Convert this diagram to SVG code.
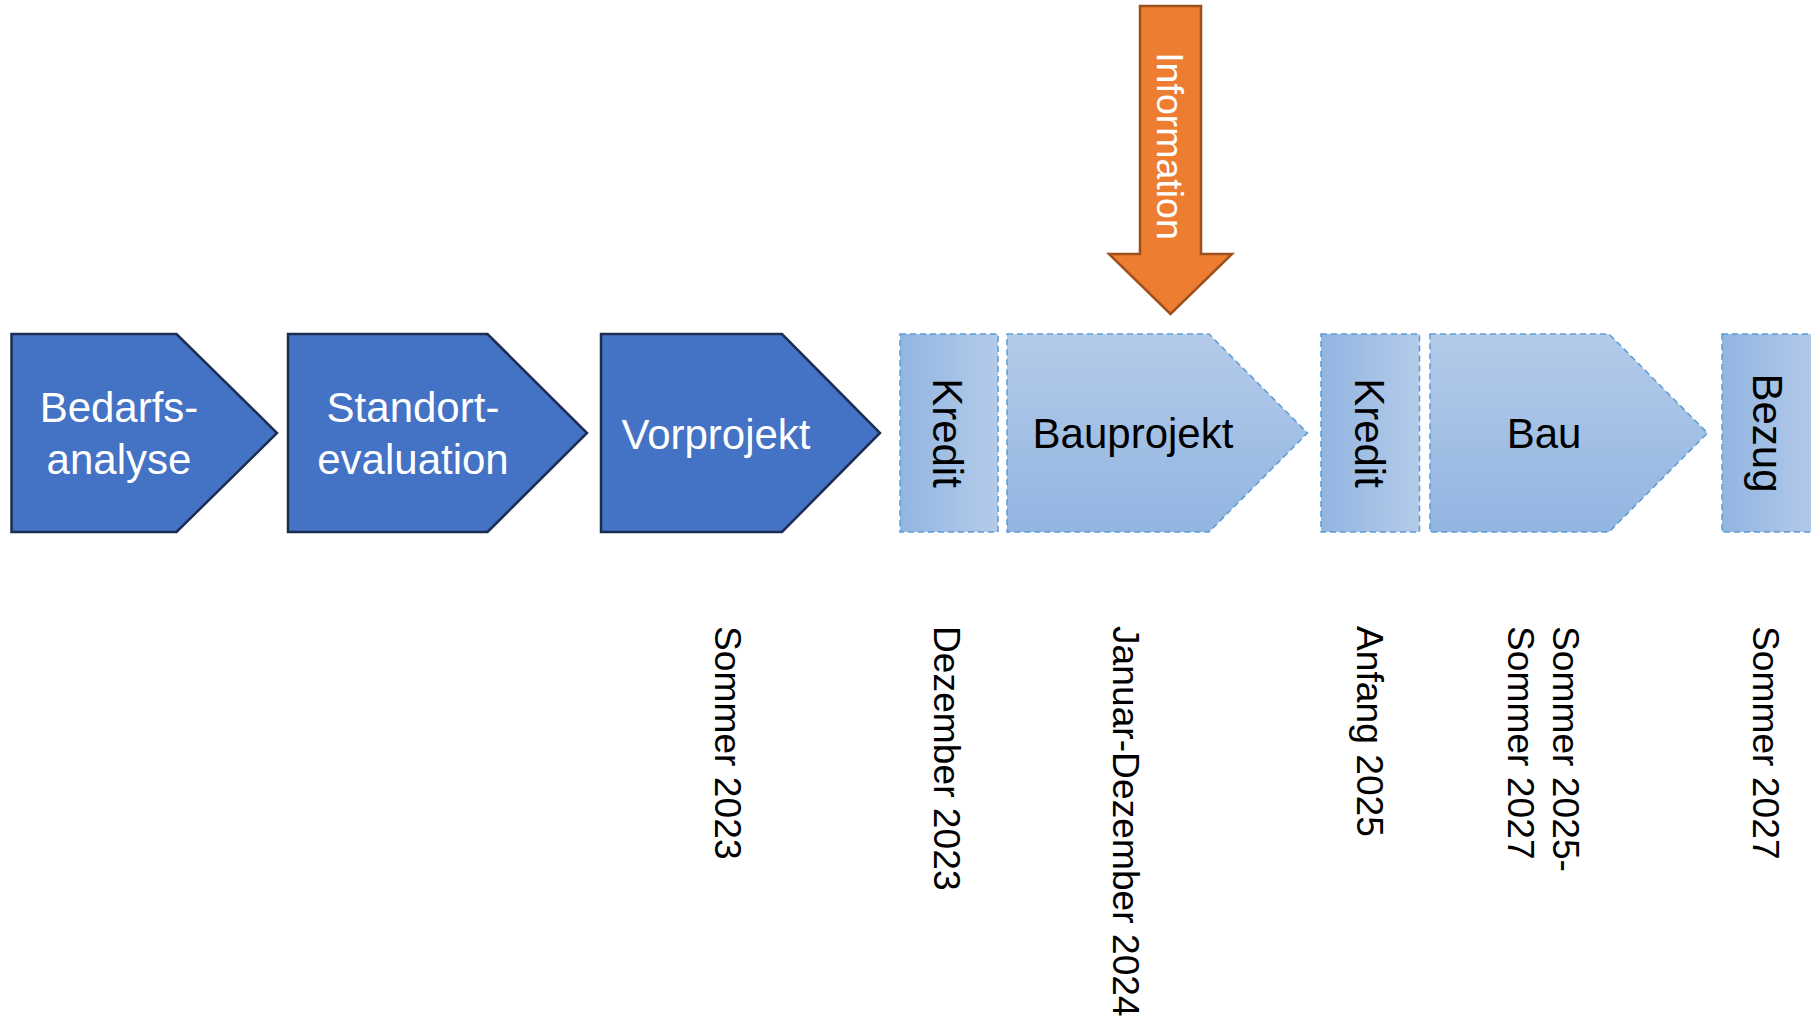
<svg xmlns="http://www.w3.org/2000/svg" width="1811" height="1021" viewBox="0 0 1811 1021">
<defs>
<linearGradient id="gv" x1="0" y1="0" x2="0" y2="1">
<stop offset="0" stop-color="#B4CBE9"/>
<stop offset="1" stop-color="#92B5E1"/>
</linearGradient>
<linearGradient id="gh" x1="0" y1="0" x2="1" y2="0">
<stop offset="0" stop-color="#92B5E1"/>
<stop offset="1" stop-color="#B4CBE9"/>
</linearGradient>
<style>
.dark{fill:#4472C4;stroke:#1C2D52;stroke-width:2.5;stroke-linejoin:miter}
.lightv{fill:url(#gv);stroke:#5B9BD5;stroke-width:1.5;stroke-dasharray:6 4}
.lighth{fill:url(#gh);stroke:#5B9BD5;stroke-width:1.5;stroke-dasharray:6 4}
.info{fill:#ED7D31;stroke:#9E4F1A;stroke-width:2.5}
text{font-family:"Liberation Sans",Arial,sans-serif}
.wl{fill:#FFFFFF;font-size:42px;text-anchor:middle}
.bl{fill:#000000;font-size:42px;text-anchor:middle}
.dt{fill:#000000;font-size:37.2px}
</style>
</defs>
<rect width="1811" height="1021" fill="#FFFFFF"/>
<g id="connectors"/>
<g id="n-bedarfsanalyse">
<polygon class="dark" points="11.5,334 176.5,334 277,433 176.5,532 11.5,532"/>
<text class="wl" x="119" y="422">Bedarfs-</text>
<text class="wl" x="119" y="474">analyse</text>
</g>
<g id="n-standortevaluation">
<polygon class="dark" points="288,334 487.5,334 587,433 487.5,532 288,532"/>
<text class="wl" x="413" y="422">Standort-</text>
<text class="wl" x="413" y="474">evaluation</text>
</g>
<g id="n-vorprojekt">
<polygon class="dark" points="601,334 782,334 880,433 782,532 601,532"/>
<text class="wl" x="716" y="449">Vorprojekt</text>
</g>
<g id="n-kredit1">
<rect class="lighth" x="900" y="334" width="98" height="198"/>
<text class="bl" transform="translate(933,433) rotate(90)">Kredit</text>
</g>
<g id="n-bauprojekt">
<polygon class="lightv" points="1007,334 1209,334 1307.5,433 1209,532 1007,532"/>
<text class="bl" x="1133" y="448">Bauprojekt</text>
</g>
<g id="n-kredit2">
<rect class="lighth" x="1321" y="334" width="98.5" height="198"/>
<text class="bl" transform="translate(1355,433) rotate(90)">Kredit</text>
</g>
<g id="n-bau">
<polygon class="lightv" points="1430,334 1609,334 1707.5,433 1609,532 1430,532"/>
<text class="bl" x="1544" y="448">Bau</text>
</g>
<g id="n-bezug">
<rect class="lighth" x="1722" y="334" width="100" height="198"/>
<text class="bl" transform="translate(1753,433) rotate(90)">Bezug</text>
</g>
<g id="n-information">
<polygon class="info" points="1140,6 1201,6 1201,254 1232,254 1170.5,314 1109,254 1140,254"/>
<text fill="#FFFFFF" font-size="37.5" text-anchor="middle" transform="translate(1157,146) rotate(90)">Information</text>
</g>
<g id="dates">
<text class="dt" transform="translate(715,626) rotate(90)">Sommer 2023</text>
<text class="dt" transform="translate(934,626) rotate(90)">Dezember 2023</text>
<text class="dt" transform="translate(1113,626) rotate(90)">Januar-Dezember 2024</text>
<text class="dt" transform="translate(1357,626) rotate(90)">Anfang 2025</text>
<text class="dt" transform="translate(1553,626) rotate(90)"><tspan x="0" y="0">Sommer 2025-</tspan><tspan x="0" y="45">Sommer 2027</tspan></text>
<text class="dt" transform="translate(1753,626) rotate(90)">Sommer 2027</text>
</g>
</svg>
